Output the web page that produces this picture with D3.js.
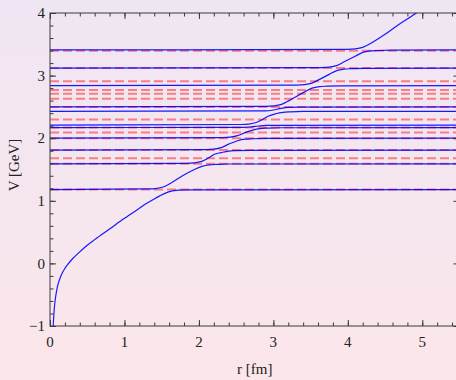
<!DOCTYPE html>
<html>
<head>
<meta charset="utf-8">
<script src="https://cdn.jsdelivr.net/npm/d3@7/dist/d3.min.js"></script>
<style>
  body { margin: 0; }
  svg { display: block; }
  .frame { fill: none; stroke: #3a3a3a; stroke-width: 1; }
  .tick line { stroke: #3a3a3a; stroke-width: 1; }
  .label { font-family: "Liberation Serif", "Times New Roman", serif; font-size: 15px; fill: #222; }
</style>
</head>
<body>
<div id="chart"></div>
<script>
// tick values
var xTicks = [0, 1, 2, 3, 4, 5];
var yTicks = [-1, 0, 1, 2, 3, 4];

// dashed thresholds (GeV)
var thresholds = [1.18, 1.59, 1.68, 1.81, 2.00, 2.09, 2.17, 2.30, 2.50, 2.63, 2.71, 2.77, 2.91, 3.12, 3.395];

// solid curves, [r (fm), V (GeV)]
var branch0 = [[0.043, -1.0], [0.05, -0.85], [0.06, -0.69], [0.07, -0.58], [0.08, -0.50], [0.1, -0.37],
               [0.125, -0.27], [0.15, -0.19], [0.2, -0.08], [0.25, 0.0], [0.3, 0.07], [0.4, 0.185],
               [0.5, 0.29], [0.6, 0.38], [0.8, 0.55], [1.0, 0.72], [1.2, 0.88], [1.3, 0.96],
               [1.4, 1.03], [1.47, 1.075], [1.55, 1.122], [1.63, 1.155], [1.72, 1.169],
               [1.85, 1.176], [5.6, 1.18]];
var branch1 = [[0, 1.18], [1.32, 1.189], [1.42, 1.196], [1.52, 1.22], [1.62, 1.28], [1.78, 1.40],
               [1.94, 1.50], [2.04, 1.55], [2.14, 1.574], [2.24, 1.581], [2.4, 1.588], [5.6, 1.59]];
var branch2 = [[0, 1.59], [1.84, 1.599], [1.94, 1.606], [2.04, 1.63], [2.14, 1.69], [2.20, 1.74],
               [2.30, 1.77], [2.40, 1.794], [2.50, 1.801], [2.7, 1.806], [5.6, 1.81]];
var branch3 = [[0, 1.81], [2.10, 1.819], [2.20, 1.826], [2.30, 1.85], [2.40, 1.905], [2.52, 1.96],
               [2.62, 1.984], [2.72, 1.991], [2.9, 1.997], [5.6, 2.0]];
var branch4 = [[0, 2.0], [2.32, 2.009], [2.42, 2.016], [2.52, 2.04], [2.62, 2.09], [2.72, 2.13],
               [2.82, 2.154], [2.92, 2.161], [3.1, 2.167], [5.6, 2.17]];
var branch5 = [[0, 2.17], [2.6, 2.172], [2.7, 2.18], [2.8, 2.195], [2.9, 2.205], [5.6, 2.21]];
var branch6 = [[0, 2.21], [2.57, 2.219], [2.67, 2.226], [2.77, 2.25], [2.87, 2.31], [2.93, 2.35],
               [3.03, 2.39], [3.13, 2.414], [3.23, 2.421], [3.4, 2.427], [5.6, 2.43]];
var branch7 = [[0, 2.43], [2.9, 2.435], [3.0, 2.45], [3.1, 2.475], [3.2, 2.492], [3.35, 2.498], [5.6, 2.5]];
var branch8 = [[0, 2.5], [2.91, 2.509], [3.01, 2.516], [3.11, 2.54], [3.21, 2.6], [3.42, 2.74],
               [3.52, 2.80], [3.62, 2.824], [3.72, 2.831], [3.9, 2.837], [5.6, 2.84]];
var branch9 = [[0, 2.84], [3.32, 2.849], [3.42, 2.856], [3.52, 2.88], [3.62, 2.94], [3.75, 3.02],
               [3.85, 3.08], [3.95, 3.104], [4.05, 3.111], [4.2, 3.117], [5.6, 3.12]];
var branch10 = [[0, 3.12], [3.65, 3.129], [3.75, 3.136], [3.85, 3.16], [3.95, 3.22], [4.10, 3.31],
                [4.20, 3.37], [4.30, 3.394], [4.40, 3.401], [4.6, 3.407], [5.6, 3.41]];
var branch11 = [[0, 3.41], [4.00, 3.419], [4.10, 3.426], [4.20, 3.45], [4.30, 3.51], [4.50, 3.66],
                [4.70, 3.83], [4.92, 4.0], [5.0, 4.07]];

var branches = [branch0, branch1, branch2, branch3, branch4, branch5,
                branch6, branch7, branch8, branch9, branch10, branch11];

var width = 456, height = 380;
var margin = {top: 13, left: 50, bottom: 54};
var plotRight = 459.5;

var svg = d3.select("#chart").append("svg")
    .attr("width", width)
    .attr("height", height);

// background gradient, lavender at top to pink at bottom
var defs = svg.append("defs");
var grad = defs.append("linearGradient")
    .attr("id", "bg")
    .attr("x1", 0).attr("y1", 0).attr("x2", 0).attr("y2", 1);
grad.append("stop").attr("offset", "0%").attr("stop-color", "#efe6f3");
grad.append("stop").attr("offset", "100%").attr("stop-color", "#fbe6ea");

svg.append("rect")
    .attr("width", width)
    .attr("height", height)
    .attr("fill", "url(#bg)");

var x = d3.scaleLinear().domain([0, 5.5]).range([margin.left, plotRight]);
var y = d3.scaleLinear().domain([-1, 4]).range([height - margin.bottom, margin.top]);

defs.append("clipPath")
    .attr("id", "clip")
    .append("rect")
    .attr("x", x(0)).attr("y", y(4))
    .attr("width", x(5.5) - x(0))
    .attr("height", y(-1) - y(4));

var plot = svg.append("g").attr("clip-path", "url(#clip)");

var line = d3.line()
    .x(function(d) { return x(d[0]); })
    .y(function(d) { return y(d[1]); })
    .curve(d3.curveMonotoneX);

// red dashed thresholds
plot.selectAll("line.thr")
    .data(thresholds)
    .enter().append("line")
    .attr("class", "thr")
    .attr("x1", x(0)).attr("x2", x(5.5))
    .attr("y1", function(d) { return y(d); })
    .attr("y2", function(d) { return y(d); })
    .attr("stroke", "#ff0000")
    .attr("stroke-opacity", 0.45)
    .attr("stroke-width", 2)
    .attr("stroke-dasharray", "9,4");

// solid blue curves
plot.selectAll("path.branch")
    .data(branches)
    .enter().append("path")
    .attr("class", "branch")
    .attr("d", line)
    .attr("fill", "none")
    .attr("stroke", "#0000ff")
    .attr("stroke-opacity", 0.9)
    .attr("stroke-width", 1.2);

// frame with inward ticks on all four sides
var xMinor = d3.range(0, 5.51, 0.2);
var yMinor = d3.range(-1, 4.01, 0.2);

function addTicks(g, axis) {
    g.call(axis).call(function(s) { s.select(".domain").remove(); });
}

addTicks(svg.append("g").attr("transform", "translate(0," + y(-1) + ")"),
    d3.axisTop(x).tickValues(xMinor).tickSize(3.5).tickFormat(""));
addTicks(svg.append("g").attr("transform", "translate(0," + y(-1) + ")"),
    d3.axisTop(x).tickValues(xTicks).tickSize(6).tickFormat(""));
addTicks(svg.append("g").attr("transform", "translate(0," + y(4) + ")"),
    d3.axisBottom(x).tickValues(xMinor).tickSize(3.5).tickFormat(""));
addTicks(svg.append("g").attr("transform", "translate(0," + y(4) + ")"),
    d3.axisBottom(x).tickValues(xTicks).tickSize(6).tickFormat(""));
addTicks(svg.append("g").attr("transform", "translate(" + x(0) + ",0)"),
    d3.axisRight(y).tickValues(yMinor).tickSize(3.5).tickFormat(""));
addTicks(svg.append("g").attr("transform", "translate(" + x(0) + ",0)"),
    d3.axisRight(y).tickValues(yTicks).tickSize(6).tickFormat(""));
addTicks(svg.append("g").attr("transform", "translate(" + x(5.5) + ",0)"),
    d3.axisLeft(y).tickValues(yMinor).tickSize(3.5).tickFormat(""));
addTicks(svg.append("g").attr("transform", "translate(" + x(5.5) + ",0)"),
    d3.axisLeft(y).tickValues(yTicks).tickSize(6).tickFormat(""));

svg.append("rect")
    .attr("class", "frame")
    .attr("x", x(0)).attr("y", y(4))
    .attr("width", x(5.5) - x(0))
    .attr("height", y(-1) - y(4));

// tick labels
svg.selectAll("text.xl")
    .data(xTicks)
    .enter().append("text")
    .attr("class", "label")
    .attr("x", function(d) { return x(d); })
    .attr("y", 347)
    .attr("text-anchor", "middle")
    .text(function(d) { return d; });

svg.selectAll("text.yl")
    .data(yTicks)
    .enter().append("text")
    .attr("class", "label")
    .attr("x", x(0) - 5)
    .attr("y", function(d) { return y(d); })
    .attr("dy", "0.35em")
    .attr("text-anchor", "end")
    .text(function(d) { return d < 0 ? "\u2212" + Math.abs(d) : d; });

// axis titles
svg.append("text")
    .attr("class", "label")
    .attr("x", x(2.75))
    .attr("y", 374)
    .attr("text-anchor", "middle")
    .text("r [fm]");

svg.append("text")
    .attr("class", "label")
    .attr("transform", "translate(19,165) rotate(-90)")
    .attr("text-anchor", "middle")
    .text("V [GeV]");
</script>
</body>
</html>
